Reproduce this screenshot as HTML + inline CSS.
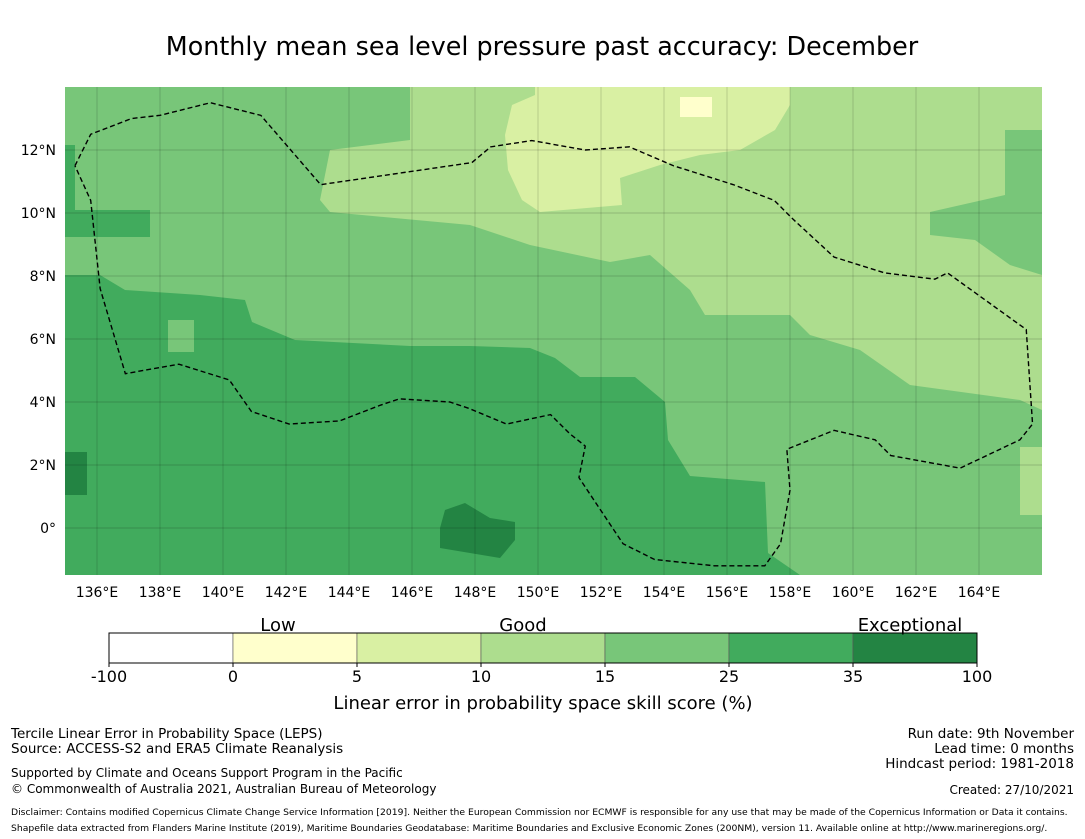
<!DOCTYPE html>
<html><head><meta charset="utf-8">
<style>
body{margin:0;background:#fff;width:1085px;height:839px;overflow:hidden;font-family:"Liberation Sans","DejaVu Sans",sans-serif;}
svg{position:absolute;left:0;top:0}
</style></head>
<body>
<svg width="1085" height="839" id="svg" font-family="DejaVu Sans, Liberation Sans, sans-serif">
<text x="542" y="55" font-size="25.4" text-anchor="middle" fill="#000">Monthly mean sea level pressure past accuracy: December</text>
<g id="map">
 <rect x="65" y="87" width="977" height="488" fill="#78c679"/>
 <polygon fill="#addd8e" points="410,87 1042,87 1042,130 1005,130 1005,195 930,212 930,235 975,240 1010,265 1042,275 1042,410 1020,400 910,385 860,350 810,335 790,315 705,315 690,290 650,255 610,262 530,245 470,225 330,212 320,200 330,150 410,140"/>
 <polygon fill="#d9f0a3" points="535,87 790,87 790,105 775,130 740,150 700,155 660,165 620,178 622,205 540,212 522,200 508,170 505,135 512,105 535,95"/>
 <rect x="680" y="97" width="32" height="20" fill="#ffffcc"/>
 <polygon fill="#41ab5d" points="65,275 100,275 125,290 200,295 245,300 252,322 295,340 410,346 470,346 530,348 555,358 580,377 635,377 665,402 668,440 690,476 765,482 768,553 800,575 65,575"/>
 <rect x="65" y="210" width="85" height="27" fill="#41ab5d"/>
 <rect x="65" y="145" width="10" height="65" fill="#41ab5d"/>
 <rect x="168" y="320" width="26" height="32" fill="#78c679"/>
 <rect x="1020" y="447" width="22" height="68" fill="#addd8e"/>
 <polygon fill="#238443" points="445,510 465,503 490,518 515,522 515,540 500,558 440,548 440,528"/>
 <rect x="65" y="452" width="22" height="43" fill="#238443"/>
 <g id="grid"></g>
 <polyline id="eez" fill="none" stroke="#000" stroke-width="1.4" stroke-dasharray="5,3"/>
</g>
<g id="xticks"></g>
<g id="yticks"></g>
<g id="cbar"></g>
<text x="278" y="631" font-size="18" text-anchor="middle">Low</text>
<text x="523" y="631" font-size="18" text-anchor="middle">Good</text>
<text x="910" y="631" font-size="18" text-anchor="middle">Exceptional</text>
<text x="543" y="709" font-size="18" text-anchor="middle">Linear error in probability space skill score (%)</text>
<g font-size="13.5">
<text x="11" y="738">Tercile Linear Error in Probability Space (LEPS)</text>
<text x="11" y="753">Source: ACCESS-S2 and ERA5 Climate Reanalysis</text>
<text x="11" y="777" font-size="12">Supported by Climate and Oceans Support Program in the Pacific</text>
<text x="11" y="793" font-size="12">© Commonwealth of Australia 2021, Australian Bureau of Meteorology</text>
</g>
<g font-size="13.5" text-anchor="end">
<text x="1074" y="738">Run date: 9th November</text>
<text x="1074" y="753">Lead time: 0 months</text>
<text x="1074" y="768">Hindcast period: 1981-2018</text>
<text x="1074" y="794" font-size="12">Created: 27/10/2021</text>
</g>
<text x="11" y="815" font-size="9.23">Disclaimer: Contains modified Copernicus Climate Change Service Information [2019]. Neither the European Commission nor ECMWF is responsible for any use that may be made of the Copernicus Information or Data it contains.</text>
<text x="11" y="831" font-size="9.23">Shapefile data extracted from Flanders Marine Institute (2019), Maritime Boundaries Geodatabase: Maritime Boundaries and Exclusive Economic Zones (200NM), version 11. Available online at http://www.marineregions.org/.</text>
</svg>
<script>
const lonTicks=[136,138,140,142,144,146,148,150,152,154,156,158,160,162,164];
const latTicks=[12,10,8,6,4,2,0];
const cbarBounds=["-100","0","5","10","15","25","35","100"];
const cbarColors=["#ffffff","#ffffcc","#d9f0a3","#addd8e","#78c679","#41ab5d","#238443"];
const eezLon=[135.3,135.8,137.1,138.0,139.6,141.2,143.1,147.9,148.5,149.8,151.5,152.9,154.3,156.2,157.5,158.1,159.4,161.0,162.6,163.0,165.5,165.7,165.3,163.4,161.2,160.7,159.4,157.9,158.0,157.7,157.2,155.6,153.7,152.7,151.3,151.5,151.0,150.4,149.0,147.8,147.2,145.6,145.0,143.7,142.1,140.9,140.2,138.6,136.9,136.1,135.8,135.3];
const eezLat=[11.5,12.5,13.0,13.1,13.5,13.1,10.9,11.6,12.1,12.3,12.0,12.1,11.5,10.9,10.4,9.8,8.6,8.1,7.9,8.1,6.3,3.3,2.8,1.9,2.3,2.8,3.1,2.5,1.2,-0.5,-1.2,-1.2,-1.0,-0.5,1.6,2.6,3.0,3.6,3.3,3.8,4.0,4.1,3.9,3.4,3.3,3.7,4.7,5.2,4.9,7.6,10.4,11.5];
const X=lon=>65.5+(lon-135)*31.5, Y=lat=>87+(14-lat)*31.5;
const NS="http://www.w3.org/2000/svg";
function mk(t,a,p){const e=document.createElementNS(NS,t);for(const k in a)e.setAttribute(k,a[k]);p.appendChild(e);return e;}
const grid=document.getElementById('grid');
lonTicks.forEach(l=>{const e=mk('line',{x1:X(l),x2:X(l),y1:87,y2:575,stroke:'#000','stroke-opacity':0.22,'stroke-width':0.7},grid);


const t=mk('text',{x:X(l),y:597,'font-size':14,'text-anchor':'middle'},document.getElementById('xticks'));t.textContent=l+'°E';

});
latTicks.forEach(l=>{const e=mk('line',{x1:65,x2:1042,y1:Y(l),y2:Y(l),stroke:'#000','stroke-opacity':0.22,'stroke-width':0.7},grid);


const t=mk('text',{x:56,y:Y(l)+5,'font-size':14,'text-anchor':'end'},document.getElementById('yticks'));t.textContent=l===0?'0°':l+'°N';

});
document.getElementById('eez').setAttribute('points',eezLon.map((l,i)=>X(l)+','+Y(eezLat[i])).join(' '));
const cb=document.getElementById('cbar');const w=124,x0=109;
cbarColors.forEach((c,i)=>{const r=mk('rect',{x:x0+i*w,y:633,width:w,height:30,fill:c,stroke:'#555','stroke-width':0.6},cb);

});
mk('rect',{x:x0,y:633,width:w*7,height:30,fill:'none',stroke:'#000','stroke-width':1},cb);
cbarBounds.forEach((b,i)=>{mk('line',{x1:x0+i*w,x2:x0+i*w,y1:663,y2:667,stroke:'#000'},cb);
const t=mk('text',{x:x0+i*w,y:682,'font-size':16,'text-anchor':'middle'},cb);t.textContent=b;

});
</script>
</body></html>
